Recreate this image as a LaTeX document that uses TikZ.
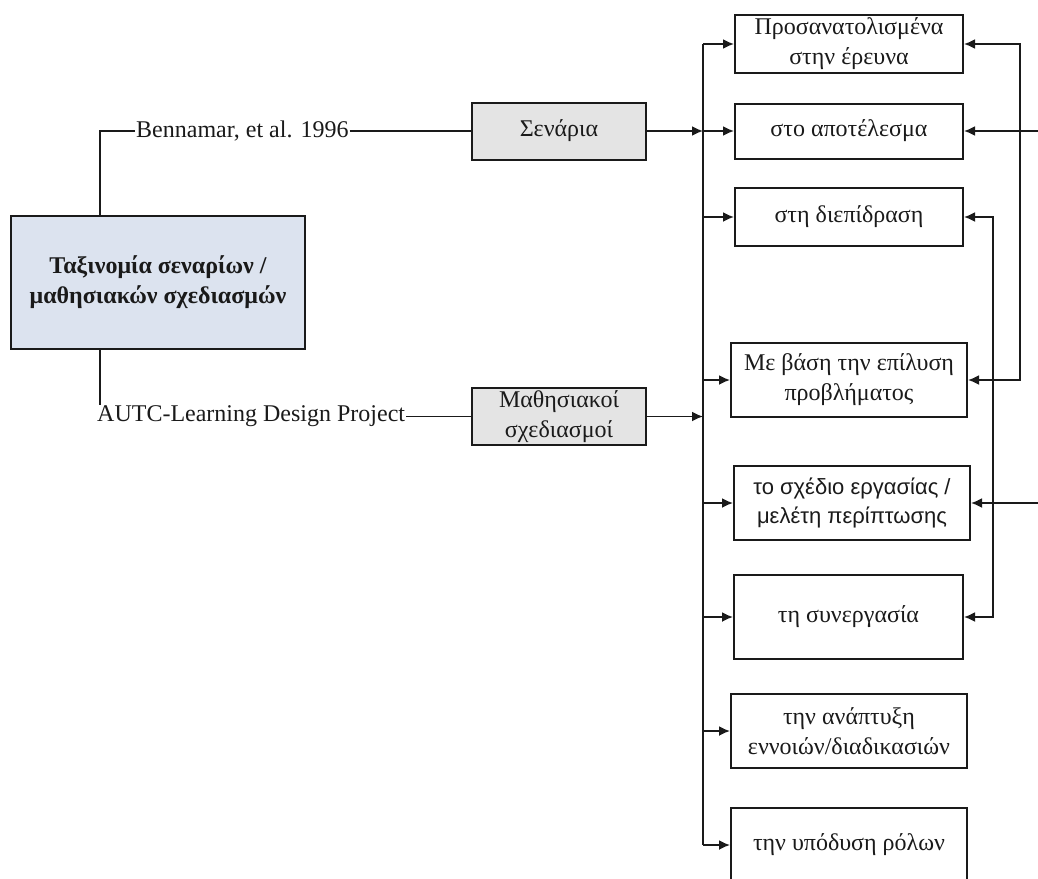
\documentclass[tikz,border=0pt]{standalone}
\usepackage{fontspec}
\setmainfont{Liberation Serif}
\newfontfamily\sansgr{Liberation Sans}
\usetikzlibrary{arrows.meta}
\definecolor{taxfill}{HTML}{DCE3EF}
\definecolor{catfill}{HTML}{E4E4E4}
\definecolor{ink}{HTML}{1A1A1A}
\begin{document}
\begin{tikzpicture}[x=1pt,y=-1pt,
  every node/.style={text=ink},
  txt/.style={font=\fontsize{24}{30}\selectfont},
  box/.style={draw=ink,line width=2pt,inner sep=0pt,align=center,txt},
  catbox/.style={box,fill=catfill,minimum width=174pt,minimum height=57pt},
  item/.style={box,minimum height=58pt},
  conn/.style={draw=ink,line width=1.8pt},
  tip/.tip={Latex[length=11pt,width=10pt]},
  arr/.style={conn,-tip},
  barr/.style={conn,tip-tip}]
\useasboundingbox (0,0) rectangle (1038,878);

% root box
\node[box,fill=taxfill,minimum width=294pt,minimum height=133pt,
      font=\fontsize{24}{30}\selectfont\bfseries] (tax) at (158,282.5)
      {Ταξινομία σεναρίων /\\μαθησιακών σχεδιασμών};

% sources
\node[txt,anchor=west,inner sep=1pt] (benn) at (135,131) {Bennamar, et al. 1996};
\node[txt,anchor=west,inner sep=1pt] (autc) at (96,416.5) {AUTC-Learning Design Project};

% categories
\node[catbox] (sen) at (559,131) {Σενάρια};
\node[catbox] (mth) at (559,416.5) {Μαθησιακοί\\σχεδιασμοί};

% right-hand column
\node[item,minimum width=228pt] (b1) at (849,44) {Προσανατολισμένα\\στην έρευνα};
\node[item,minimum width=228pt,minimum height=55pt] (b2) at (849,131) {στο αποτέλεσμα};
\node[item,minimum width=228pt] (b3) at (849,217) {στη διεπίδραση};
\node[item,minimum width=236pt,minimum height=74pt] (b4) at (849,380) {Με βάση την επίλυση\\προβλήματος};
\node[item,minimum width=236pt,minimum height=74pt,
      font=\sansgr\fontsize{22}{29}\selectfont] (b5) at (852,503) {το σχέδιο εργασίας /\\μελέτη περίπτωσης};
\node[item,minimum width=229pt,minimum height=84pt] (b6) at (848.5,617) {τη συνεργασία};
\node[item,minimum width=236pt,minimum height=74pt] (b7) at (849,731) {την ανάπτυξη\\εννοιών/διαδικασιών};
\node[item,minimum width=236pt,minimum height=74pt] (b8) at (849,845) {την υπόδυση ρόλων};

% helper positions for the vertical rails
\coordinate (trunk) at (703,0);
\coordinate (railA) at (1020,0);
\coordinate (railB) at (993,0);
\coordinate (edge) at (1045,0);
\coordinate (stem) at (100,0);

% root to sources
\draw[conn] (tax.north -| stem) |- (benn.west);
\draw[conn] (tax.south -| stem) -- (autc.north -| stem);
\draw[conn] (benn.east) -- (sen.west);
\draw[conn] (autc.east) -- (mth.west);

% categories into the trunk
\draw[arr] (sen.east) -- (sen.east -| trunk);
\draw[arr] (mth.east) -- (mth.east -| trunk);

% trunk and its branches
\draw[conn] (b1.west -| trunk) -- (b8.west -| trunk);
\foreach \b in {b1,b2,b3,b4,b5,b6,b7,b8}
  \draw[arr] (\b.west -| trunk) -- (\b.west);

% links on the right side
\draw[barr] (b1.east) -- (b1.east -| railA) -- (b4.east -| railA) -- (b4.east);
\draw[barr] (b3.east) -- (b3.east -| railB) -- (b6.east -| railB) -- (b6.east);
\draw[arr] (b2.east -| edge) -- (b2.east);
\draw[arr] (b5.east -| edge) -- (b5.east);
\end{tikzpicture}
\end{document}
